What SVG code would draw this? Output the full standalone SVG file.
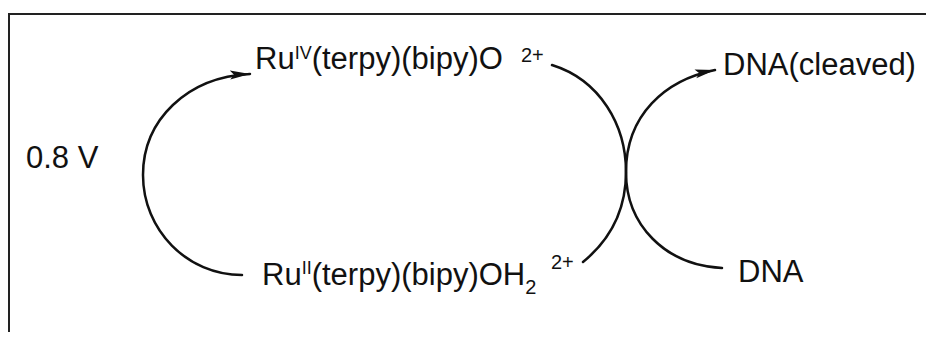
<svg xmlns="http://www.w3.org/2000/svg" width="926" height="337" viewBox="0 0 926 337">
<style>
.t{font-family:"Liberation Sans",Arial,sans-serif;font-size:31px;fill:#111}
.s{font-size:18px}
.p{font-size:20px}
.c{fill:none;stroke:#111;stroke-width:2.5;stroke-linecap:round}
.f{fill:none;stroke:#222;stroke-width:2}
</style>
<defs>
<marker id="ah" markerUnits="userSpaceOnUse" markerWidth="22" markerHeight="12" viewBox="0 0 22 12" refX="20" refY="6" orient="auto">
<path d="M0,1.5 L20,6 L0,10.5 L4,6 Z" fill="#111"/>
</marker>
</defs>
<rect width="926" height="337" fill="#fff"/>
<g id="frame">
<path class="f" d="M9,332 V14 H926"/>
</g>
<g id="connectors">
<path class="c" d="M242,275 C187,275 143,230 143,175 C143,120 187,77 250,74" marker-end="url(#ah)"/>
<path class="c" d="M552,65 C600,80 626,125 626,172 C626,225 665,265 722,268"/>
<path class="c" d="M583,262 C610,240 626,210 626,172 C626,115 665,80 715,70" marker-end="url(#ah)"/>
</g>
<g id="ru4">
<text class="t" x="255" y="69">Ru<tspan class="s" dy="-10">IV</tspan><tspan dy="10">(terpy)(bipy)O</tspan></text>
<text class="t p" x="521" y="62">2+</text>
</g>
<g id="ru2">
<text class="t" x="262" y="285">Ru<tspan class="s" dy="-11">II</tspan><tspan dy="11">(terpy)(bipy)OH</tspan><tspan class="p" dy="9">2</tspan></text>
<text class="t p" x="551" y="269">2+</text>
</g>
<g id="voltage">
<text class="t" x="26" y="168">0.8 V</text>
</g>
<g id="dnacleaved">
<text class="t" x="723" y="75">DNA(cleaved)</text>
</g>
<g id="dna">
<text class="t" x="738" y="282">DNA</text>
</g>
</svg>
